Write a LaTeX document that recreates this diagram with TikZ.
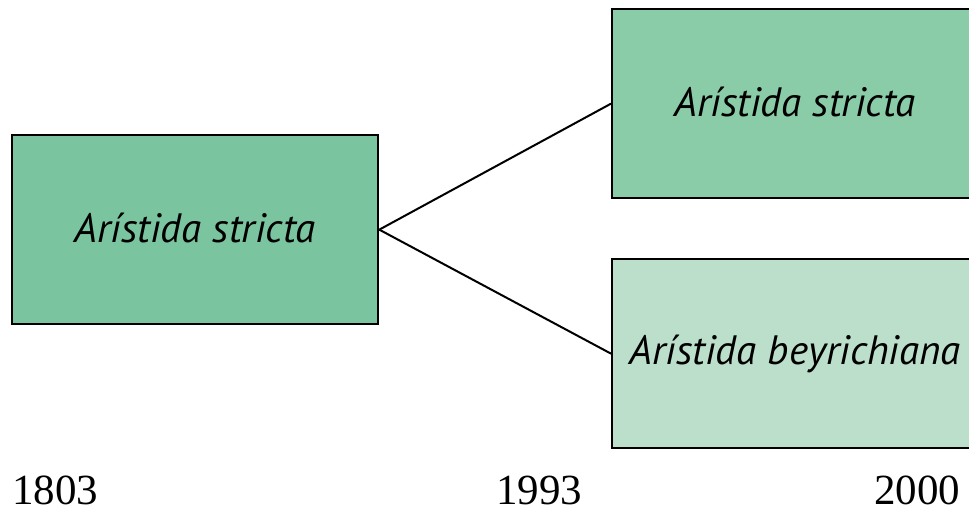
\documentclass[tikz,border=0pt]{standalone}
\usepackage{fontspec}
\setmainfont{PT Sans}
\newfontfamily\yearfont{Liberation Serif}
\definecolor{boxA}{HTML}{7AC59F}
\definecolor{boxB}{HTML}{8ACBA8}
\definecolor{boxC}{HTML}{BCDFCC}
\begin{document}
\begin{tikzpicture}[x=1pt,y=-1pt,
  taxon/.style={draw=black,line width=2.3pt,minimum width=366pt,minimum height=189pt,inner sep=0pt,font=\fontsize{41}{48}\selectfont\itshape,anchor=north west},
  year/.style={font=\yearfont\fontsize{43}{50}\selectfont,anchor=base west,inner sep=0pt},
  link/.style={line width=2pt}]
\useasboundingbox (0,0) rectangle (969,510);
\clip (0,0) rectangle (969,510);
\node[taxon,fill=boxA] (old) at (11,134) {\raisebox{4pt}{Arístida stricta}};
\node[taxon,fill=boxB] (new1) at (611,8) {\raisebox{4pt}{Arístida stricta}};
\node[taxon,fill=boxC] (new2) at (611,258) {\raisebox{4pt}{Arístida beyrichiana}};
\draw[link] (old.east) -- (new1.west);
\draw[link] (old.east) -- (new2.west);
\node[year] (y1) at (12,504) {1803};
\node[year] (y2) at (496,504) {1993};
\node[year] (y3) at (874,504) {2000};
\end{tikzpicture}
\end{document}
